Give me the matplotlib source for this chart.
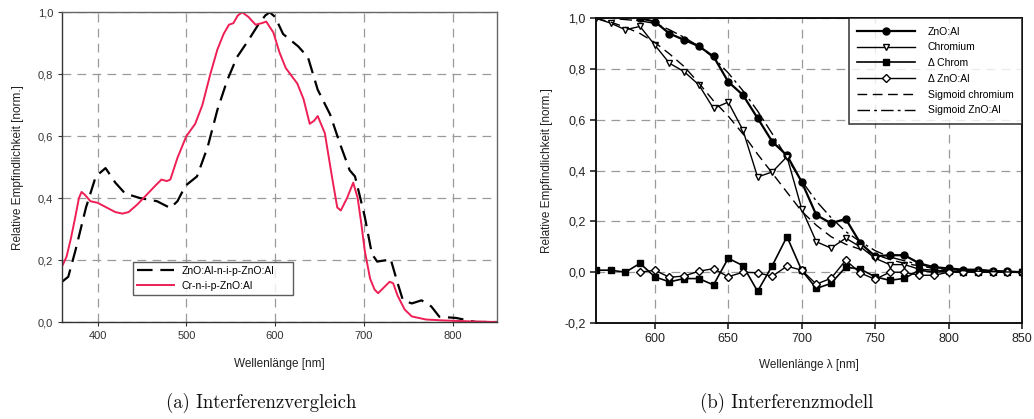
import numpy as np
import matplotlib
matplotlib.use('Agg')
import matplotlib.pyplot as plt
from matplotlib.ticker import FuncFormatter, MultipleLocator

# (a) Interferenzvergleich: gemessene Spektren
wl_zno = [360, 367, 375, 381, 387, 398, 409, 420, 431, 448, 467, 482, 490, 499, 512, 524, 535,
          546, 557, 570, 581, 589, 594, 600, 609, 626, 637, 648, 662, 673, 684, 690, 696, 701,
          709, 715, 726, 730, 737, 744, 754, 765, 776, 785, 804, 826, 850]
resp_zno = [0.13, 0.146, 0.23, 0.30, 0.37, 0.47, 0.497, 0.45, 0.415, 0.40, 0.39, 0.368, 0.39,
            0.44, 0.47, 0.565, 0.685, 0.78, 0.855, 0.91, 0.96, 0.99, 1.0, 0.985, 0.93, 0.89,
            0.855, 0.75, 0.67, 0.576, 0.49, 0.47, 0.40, 0.34, 0.22, 0.195, 0.20, 0.205, 0.135,
            0.07, 0.06, 0.07, 0.05, 0.017, 0.013, 0.0, 0.0]

wl_cr = [360, 365, 370, 375, 379, 382, 386, 392, 400, 410, 420, 428, 435, 445, 455, 465, 472,
         478, 482, 490, 500, 510, 518, 527, 535, 542, 548, 553, 558, 563, 570, 578, 585, 590,
         598, 605, 612, 625, 632, 639, 644, 648, 656, 664, 670, 674, 681, 688, 693, 697, 701,
         707, 712, 716, 722, 729, 733, 738, 746, 754, 770, 790, 820, 850]
resp_cr = [0.18, 0.21, 0.27, 0.34, 0.40, 0.42, 0.41, 0.39, 0.385, 0.37, 0.355, 0.35, 0.355,
           0.38, 0.41, 0.44, 0.46, 0.455, 0.46, 0.53, 0.60, 0.64, 0.70, 0.80, 0.88, 0.93, 0.96,
           0.965, 0.99, 1.0, 0.985, 0.96, 0.965, 0.97, 0.935, 0.87, 0.82, 0.77, 0.72, 0.64,
           0.65, 0.665, 0.61, 0.47, 0.37, 0.36, 0.40, 0.45, 0.40, 0.32, 0.23, 0.14, 0.105,
           0.093, 0.11, 0.13, 0.125, 0.085, 0.04, 0.018, 0.008, 0.005, 0.002, 0.0]

# (b) Interferenzmodell: 10-nm-Raster
wl_chrom = list(range(560, 851, 10))
chromium = [1.0, 0.981, 0.955, 0.968, 0.895, 0.823, 0.79, 0.738, 0.645, 0.67, 0.56, 0.375,
            0.395, 0.455, 0.25, 0.12, 0.095, 0.134, 0.10, 0.055, 0.03, 0.03, 0.012, 0.008,
            0.005, 0.004, 0.003, 0.002, 0.001, 0.0]
delta_chrom = [0.008, 0.008, 0.0, 0.035, -0.018, -0.038, -0.025, -0.025, -0.05, 0.055, 0.026,
               -0.075, 0.026, 0.14, 0.008, -0.064, -0.044, 0.02, 0.012, -0.018, -0.032, -0.024,
               0.008, 0.0, 0.003, 0.002, 0.002, 0.001, 0.0, 0.0]

wl_zno_model = list(range(590, 851, 10))
zno_al = [1.0, 0.987, 0.94, 0.915, 0.89, 0.85, 0.75, 0.698, 0.607, 0.514, 0.46, 0.356, 0.225,
          0.193, 0.21, 0.114, 0.063, 0.067, 0.067, 0.035, 0.02, 0.015, 0.01, 0.01, 0.005,
          0.003, 0.0]
delta_zno = [0.0, 0.008, -0.02, -0.015, 0.004, 0.014, -0.018, 0.0, -0.002, -0.016, 0.024,
             0.008, -0.047, -0.024, 0.047, -0.003, -0.028, 0.0, 0.0, -0.012, -0.012, 0.0,
             0.0, 0.0, 0.0, 0.0, 0.0]

sig_chrom = [1.0, 0.985, 0.965, 0.94, 0.905, 0.86, 0.81, 0.745, 0.675, 0.615, 0.545, 0.465,
             0.39, 0.315, 0.24, 0.185, 0.14, 0.11, 0.09, 0.07, 0.05, 0.035, 0.025, 0.015,
             0.01, 0.006, 0.004, 0.002, 0.001, 0.0]
sig_zno = [1.0, 1.0, 0.995, 0.99, 0.98, 0.955, 0.925, 0.89, 0.845, 0.785, 0.715, 0.635,
           0.545, 0.45, 0.36, 0.28, 0.215, 0.16, 0.12, 0.085, 0.06, 0.045, 0.03, 0.02,
           0.013, 0.009, 0.006, 0.004, 0.002, 0.001]

plt.rcParams['font.family'] = ['Liberation Sans', 'DejaVu Sans']
komma = FuncFormatter(lambda v, p: f'{v:.1f}'.replace('.', ','))
grid_kw = dict(color='#9a9a9a', linestyle=(0, (7, 5)), linewidth=0.9)

fig = plt.figure(figsize=(10.34, 4.19), dpi=100)

#%% linkes Diagramm
ax1 = fig.add_axes([0.060, 0.2315, 0.4207, 0.7391])
ax1.plot(wl_zno, resp_zno, color='black', linestyle=(0, (7, 3.5)), linewidth=1.6,
         label='ZnO:Al-n-i-p-ZnO:Al')
ax1.plot(wl_cr, resp_cr, color='#ee1f55', linewidth=1.4, label='Cr-n-i-p-ZnO:Al')
ax1.set_xlim(360, 850)
ax1.set_ylim(0, 1.0)
ax1.xaxis.set_major_locator(MultipleLocator(100))
ax1.yaxis.set_major_locator(MultipleLocator(0.2))
ax1.yaxis.set_major_formatter(komma)
ax1.grid(True, **grid_kw)
for s in ax1.spines.values():
    s.set_color('#666666')
    s.set_linewidth(1.0)
ax1.spines['left'].set_color('#333333')
ax1.spines['bottom'].set_color('#333333')
ax1.tick_params(labelsize=8, colors='#333333', length=3, direction='out')
ax1.set_xlabel('Wellenlänge [nm]', fontsize=8.5, color='#222222', labelpad=12)
ax1.set_ylabel('Relative Empfindlichkeit [norm.]', fontsize=8.5, color='#222222', labelpad=10)
leg1 = ax1.legend(loc='lower left', bbox_to_anchor=(0.163, 0.087, 0.368, 0.152),
                  fontsize=7.5, frameon=True, fancybox=False, handlelength=3.5,
                  borderaxespad=0, mode='expand')
leg1.get_frame().set_edgecolor('#333333')
leg1.get_frame().set_linewidth(1.0)

#%% rechtes Diagramm
ax2 = fig.add_axes([0.5764, 0.2291, 0.4120, 0.7272])
ms = 5
ax2.plot(wl_zno_model, zno_al, color='black', linewidth=1.6, marker='o', markersize=ms,
         label='ZnO:Al')
ax2.plot(wl_chrom, chromium, color='black', linewidth=1.0, marker='v', markersize=ms,
         markerfacecolor='white', label='Chromium')
ax2.plot(wl_chrom, delta_chrom, color='black', linewidth=1.2, marker='s', markersize=ms - 0.5,
         label='Δ Chrom')
ax2.plot(wl_zno_model, delta_zno, color='black', linewidth=1.0, marker='D', markersize=ms - 0.5,
         markerfacecolor='white', label='Δ ZnO:Al')
ax2.plot(wl_chrom, sig_chrom, color='black', linewidth=1.0, linestyle=(0, (7, 4)),
         label='Sigmoid chromium')
ax2.plot(wl_chrom, sig_zno, color='black', linewidth=1.0, linestyle=(0, (9, 3, 2, 3)),
         label='Sigmoid ZnO:Al')
ax2.set_xlim(560, 850)
ax2.set_ylim(-0.2, 1.0)
ax2.xaxis.set_major_locator(MultipleLocator(50))
ax2.yaxis.set_major_locator(MultipleLocator(0.2))
ax2.yaxis.set_major_formatter(komma)
ax2.grid(True, **grid_kw)
for s in ax2.spines.values():
    s.set_color('#111111')
    s.set_linewidth(1.4)
ax2.tick_params(labelsize=9, colors='#222222', length=4, width=1.2, direction='out')
ax2.set_xlabel('Wellenlänge λ [nm]', fontsize=8.5, color='#222222', labelpad=10)
ax2.set_ylabel('Relative Empfindlichkeit [norm.]', fontsize=8.5, color='#222222', labelpad=8)
leg2 = ax2.legend(loc='upper right', fontsize=7.5, frameon=True, fancybox=False,
                  handlelength=5.6, handletextpad=1.2, borderpad=0.8,
                  borderaxespad=0, labelspacing=0.55)
leg2.get_frame().set_edgecolor('#111111')
leg2.get_frame().set_linewidth(1.2)

#%% Bildunterschriften
fig.text(0.253, 0.038, '(a) Interferenzvergleich', family=['cmr10', 'DejaVu Serif'],
         fontsize=13.5, ha='center', va='center', color='#111111')
fig.text(0.761, 0.038, '(b) Interferenzmodell', family=['cmr10', 'DejaVu Serif'],
         fontsize=13.5, ha='center', va='center', color='#111111')

fig.savefig('out.png', dpi=100)
